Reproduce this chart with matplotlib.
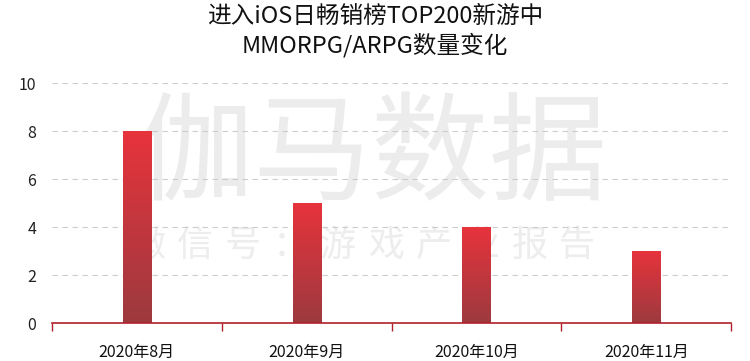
import matplotlib
matplotlib.use("Agg")
import matplotlib.pyplot as plt
import numpy as np
from matplotlib.colors import LinearSegmentedColormap
from matplotlib.patches import Rectangle

plt.rcParams['font.family'] = ['Noto Sans CJK SC', 'DejaVu Sans']

categories = ['2020年8月', '2020年9月', '2020年10月', '2020年11月']
values = [8, 5, 4, 3]
yticks = [0, 2, 4, 6, 8, 10]
title = '进入iOS日畅销榜TOP200新游中\nMMORPG/ARPG数量变化'
wm_main = '伽马数据'
wm_sub = '微信号：游戏产业报告'

W, H = 750, 361
fig = plt.figure(figsize=(7.5, 3.61), dpi=100)
ax = fig.add_axes([0.069, 0.105, 0.906, 0.665])

x = np.arange(len(categories))
bw = 0.165
bars = ax.bar(x, values, width=bw, color='none', zorder=3)

cmap = LinearSegmentedColormap.from_list('g', ['#9c3a3f', '#e8333c'])
grad = np.linspace(0, 1, 256).reshape(-1, 1)
for b in bars:
    x0, y0 = b.get_x(), b.get_y()
    w, h = b.get_width(), b.get_height()
    im = ax.imshow(grad, cmap=cmap, origin='lower', aspect='auto',
                   extent=[x0, x0 + w, y0, y0 + h], zorder=3)
    clip = Rectangle((x0, y0), w, h, transform=ax.transData)
    im.set_clip_path(clip)

ax.set_xlim(-0.5, len(categories) - 0.5)
ax.set_ylim(0, 10)
ax.set_yticks(yticks)
ax.set_yticklabels([str(v) for v in yticks], fontsize=11.5, color='#222222')
ax.set_xticks(x)
ax.set_xticklabels(categories, fontsize=11.5, color='#111111')
ax.set_xticks(np.arange(-0.5, len(categories)), minor=True)
ax.tick_params(axis='x', which='major', length=0, pad=15)
ax.tick_params(axis='x', which='minor', length=6, color='#b0202a', width=1)
ax.tick_params(axis='y', length=0, pad=11)

for s in ['top', 'right', 'left']:
    ax.spines[s].set_visible(False)
ax.spines['bottom'].set_color('#b0202a')
ax.spines['bottom'].set_linewidth(1.2)
ax.spines['bottom'].set_zorder(4)

ax.yaxis.grid(True, linestyle=(0, (5, 4)), color='#cccccc', linewidth=0.8, zorder=1)
ax.set_axisbelow(True)

# watermark (drawn inside the axes, below grid and bars)
ax.text(372 / W, 1 - 158 / H, wm_main, fontsize=85, color='#ececec', ha='center',
        va='center', transform=fig.transFigure, zorder=0.5, clip_on=False)
for i, ch in enumerate(wm_sub):
    ax.text((147 + i * 47.8) / W, 1 - 246 / H, ch, fontsize=26, color='#ededed',
            ha='center', va='center', transform=fig.transFigure, zorder=0.5,
            clip_on=False)

fig.suptitle(title, fontsize=17, y=0.985, va='top', color='#111111', linespacing=1.2)

fig.savefig('out.png', dpi=100)
